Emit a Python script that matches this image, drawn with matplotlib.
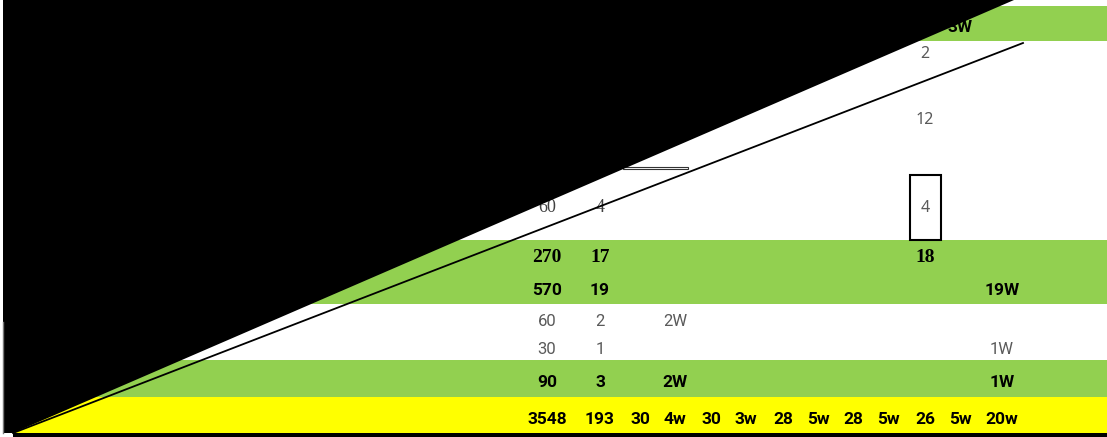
import matplotlib.pyplot as plt
from matplotlib.patches import Rectangle, Polygon

# cell texts, one list per table row ('' = empty cell)
row_cells = [
    ['', '', '', '', '', '', '', '', '', '', '', '3W', ''],
    ['', '', '', '', '', '', '', '', '', '', '2', '', ''],
    ['', '', '', '', '', '', '', '', '', '', '12', '', ''],
    ['60', '4', '', '', '', '', '', '', '', '', '4', '', ''],
    ['270', '17', '', '', '', '', '', '', '', '', '18', '', ''],
    ['570', '19', '', '', '', '', '', '', '', '', '', '', '19W'],
    ['60', '2', '', '2W', '', '', '', '', '', '', '', '', ''],
    ['30', '1', '', '', '', '', '', '', '', '', '', '', '1W'],
    ['90', '3', '', '2W', '', '', '', '', '', '', '', '', '1W'],
    ['3548', '193', '30', '4w', '30', '3w', '28', '5w', '28', '5w', '26', '5w', '20w'],
]

# layout (pixels of the 1107x437 picture)
W, H = 1107, 437
col_x = [547, 600, 640, 675, 711, 746, 783, 818, 853, 888, 925, 960, 1002]
row_y = [26, 54, 120, 208, 257, 289, 320, 348, 381, 418]
row_style = ['cond', 'light', 'light', 'serif', 'serif_bold', 'cond', 'light_c', 'light_c', 'cond', 'cond']
bands = [(6, 41, '#92D050'), (240, 304, '#92D050'), (360, 397, '#92D050'), (397, 433, '#FFFF00')]
boxed = (3, 10)

styles = {
    'cond': dict(family='Roboto', fontweight='bold', fontsize=12.5, color='black'),
    'light': dict(family='Noto Sans', fontweight='light', fontsize=11.5, color='#595959'),
    'light_c': dict(family='Roboto', fontsize=12, color='#5a5a5a'),
    'serif': dict(family='Liberation Serif', fontsize=13, color='#404040'),
    'serif_bold': dict(family='Liberation Serif', fontweight='bold', fontsize=14, color='black'),
}
y_shift = {'cond': 1.5, 'light_c': 1.0}

fig = plt.figure(figsize=(W / 100, H / 100), dpi=100)
ax = fig.add_axes([0, 0, 1, 1])
ax.set_xlim(0, W)
ax.set_ylim(H, 0)
ax.axis('off')

for top, bottom, color in bands:
    ax.add_patch(Rectangle((3, top), W - 3, bottom - top, facecolor=color, edgecolor='none', zorder=1))

for r, cells in enumerate(row_cells):
    for c, txt in enumerate(cells):
        if not txt:
            continue
        key = 'light' if (r, c) == boxed else row_style[r]
        ax.text(col_x[c], row_y[r] + y_shift.get(key, 0), txt, ha='center', va='center',
                zorder=3, **styles[key])

# box around the single cell
ax.add_patch(Rectangle((909.5, 174.5), 31.5, 65.5, facecolor='none', edgecolor='black', lw=1.5, zorder=4))
# short double rule
ax.add_patch(Rectangle((623, 166.5), 65, 2.5, facecolor='white', edgecolor='#333333', lw=0.8, zorder=2))

# the black wedge over the left part and the thin diagonal
ax.add_patch(Polygon([(3, 0), (1014, 0), (13, 433), (3, 433)], closed=True,
                     facecolor='black', edgecolor='none', zorder=5))
ax.plot([13, 1023], [433, 43], color='black', lw=1.3, zorder=5)
ax.plot([3, 3], [322, 433], color='#777777', lw=1, zorder=6)
# bottom border
ax.add_patch(Rectangle((13, 433), W - 13, 4, facecolor='black', edgecolor='none', zorder=5))

fig.savefig('out.png', dpi=100, facecolor='white')
